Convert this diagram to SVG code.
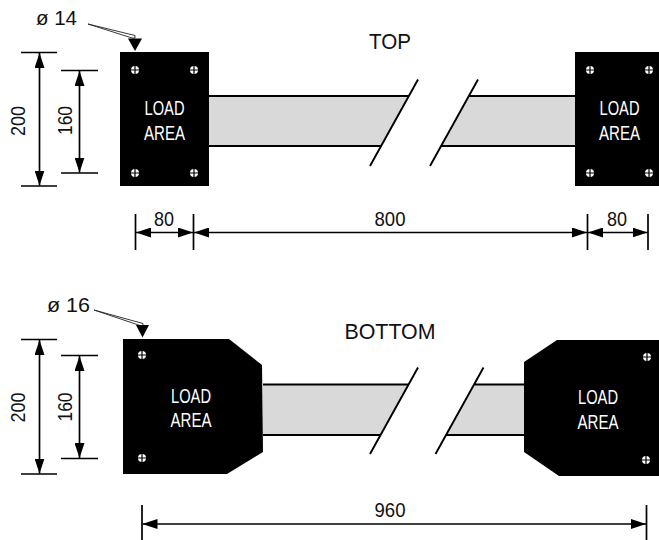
<svg xmlns="http://www.w3.org/2000/svg" width="659" height="540" viewBox="0 0 659 540">
<defs>
<marker id="ah" viewBox="0 0 15 10" refX="15" refY="5" markerWidth="15" markerHeight="10" markerUnits="userSpaceOnUse" orient="auto-start-reverse"><path d="M0 0L15 5L0 10Z" fill="#000"/></marker>
<g id="hole"><circle r="4" fill="#fff"/><path d="M-4.500 0H4.500M0-4.500V4.500" stroke="#000" stroke-width="1.200"/></g>
</defs>
<style>
text{font-family:"Liberation Sans",Arial,sans-serif;fill:#111}
.d{font-size:19.500px;text-anchor:middle}
.t{font-size:22.500px;text-anchor:middle}
.l{font-size:20px;fill:#fff;text-anchor:middle}
.s{stroke:#000;stroke-width:1.700;fill:none}
.a{stroke:#000;stroke-width:1.700;fill:none;marker-start:url(#ah);marker-end:url(#ah)}
.b{fill:#d9d9d9;stroke:none}
.k{stroke:#000;stroke-width:1.900;fill:none}
.lead{stroke:#222;stroke-width:.9;fill:#fff}
</style>
<rect width="659" height="540" fill="#fff"/>
<g id="beam-top">
<path class="b" d="M209 96H408.600L381 146H209Z"/><path class="b" d="M575 96H468.600L441 146H575Z"/>
<path class="k" d="M209 96H408.600M209 146H381M575 96H468.600M575 146H441M418 79.500L370 166M478 79.500L430 166"/>
</g>
<g id="beam-bottom">
<path class="b" d="M263 384.500H408.600L380 435H263Z"/><path class="b" d="M524 384.500H474L446 435H524Z"/>
<path class="k" d="M263 384.500H408.600M263 435H380M524 384.500H474M524 435H446M418 367.500L370 454M483.500 367.500L435.500 454"/>
</g>
<g id="block-top-left"><rect x="120" y="52" width="89" height="134" fill="#000"/>
<use href="#hole" x="135" y="70"/><use href="#hole" x="194" y="70"/><use href="#hole" x="135" y="173"/><use href="#hole" x="194" y="173"/>
<text class="l" x="164.500" y="115" textLength="40" lengthAdjust="spacingAndGlyphs">LOAD</text><text class="l" x="164.500" y="139.500" textLength="41" lengthAdjust="spacingAndGlyphs">AREA</text></g>
<g id="block-top-right"><rect x="575" y="52" width="84" height="134" fill="#000"/>
<use href="#hole" x="590" y="70"/><use href="#hole" x="649" y="70"/><use href="#hole" x="590" y="173"/><use href="#hole" x="649" y="173"/>
<text class="l" x="619.500" y="115" textLength="40" lengthAdjust="spacingAndGlyphs">LOAD</text><text class="l" x="619.500" y="139.500" textLength="41" lengthAdjust="spacingAndGlyphs">AREA</text></g>
<g id="block-bottom-left"><path d="M123 339H229L262 365L263 452L227 474H123Z" fill="#000"/>
<use href="#hole" x="142" y="355"/><use href="#hole" x="142" y="458"/>
<text class="l" x="191" y="402.500" textLength="40" lengthAdjust="spacingAndGlyphs">LOAD</text><text class="l" x="191" y="427" textLength="41" lengthAdjust="spacingAndGlyphs">AREA</text></g>
<g id="block-bottom-right"><path d="M524 362L557 340H659V476H559L524 452Z" fill="#000"/>
<use href="#hole" x="647" y="357"/><use href="#hole" x="646" y="460"/>
<text class="l" x="598" y="404" textLength="40" lengthAdjust="spacingAndGlyphs">LOAD</text><text class="l" x="598" y="428.500" textLength="41" lengthAdjust="spacingAndGlyphs">AREA</text></g>
<g id="connectors">
<path class="s" d="M21 52.500H57M21 186H57M61 70.500H98M61 173H98M21 339.500H57M21 474H57M61 355.500H98M61 458.500H98"/>
<path class="s" d="M135.500 214V250M193.500 214V250M587.500 214V250M648 214V250M142 505V540M646.500 505V540"/>
<path class="a" d="M39.500 53V185.500"/><path class="a" d="M79.500 71V172.500"/>
<path class="a" d="M39.500 340V473.500"/><path class="a" d="M79.500 356V458"/>
<path class="a" d="M136 232.500H193"/><path class="a" d="M194 232.500H587"/><path class="a" d="M588 232.500H647.500"/>
<path class="a" d="M142.500 524H646"/>
<path class="lead" d="M88 24L135 35.500V38L132 38Z"/><path d="M128 38.500H142L135 51Z" fill="#000"/>
<path class="lead" d="M94 310L143 323.500V325.500L140 325.500Z"/><path d="M136 325H149L142.500 337.500Z" fill="#000"/>
</g>
<g id="labels">
<text class="t" x="390" y="49" textLength="42" lengthAdjust="spacingAndGlyphs">TOP</text><text class="t" x="390" y="339" textLength="91" lengthAdjust="spacingAndGlyphs">BOTTOM</text>
<text x="36" y="25" font-size="20.500" textLength="41" lengthAdjust="spacingAndGlyphs">ø 14</text><text x="47" y="312" font-size="20.500" textLength="43" lengthAdjust="spacingAndGlyphs">ø 16</text>
<text class="d" transform="translate(25 121) rotate(-90)" textLength="30" lengthAdjust="spacingAndGlyphs">200</text><text class="d" transform="translate(71.500 120.500) rotate(-90)" textLength="29" lengthAdjust="spacingAndGlyphs">160</text>
<text class="d" transform="translate(25 407.500) rotate(-90)" textLength="30" lengthAdjust="spacingAndGlyphs">200</text><text class="d" transform="translate(71.500 407) rotate(-90)" textLength="29" lengthAdjust="spacingAndGlyphs">160</text>
<text class="d" x="164" y="225.500" textLength="20" lengthAdjust="spacingAndGlyphs">80</text><text class="d" x="390" y="225.500" textLength="31" lengthAdjust="spacingAndGlyphs">800</text><text class="d" x="617" y="225.500" textLength="20" lengthAdjust="spacingAndGlyphs">80</text><text class="d" x="390" y="517" textLength="31" lengthAdjust="spacingAndGlyphs">960</text>
</g>
</svg>
